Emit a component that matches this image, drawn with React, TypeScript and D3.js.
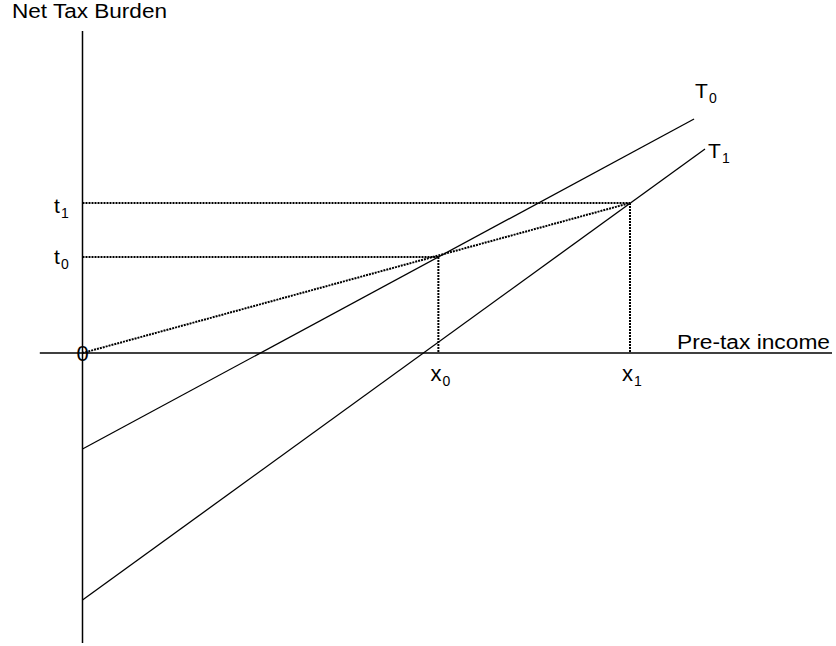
import React from "react";
import * as d3 from "d3";

// Income positions (x) and tax levels (t)
const incomeLabels = ["x0", "x1"];
const incomeValues = [6.5, 10];
const taxLabels = ["t0", "t1"];
const taxValues = [1.92, 3];

// Tax schedules: [income, net tax]
const scheduleNames = ["T0", "T1"];
const scheduleT0: [number, number][] = [[0, -1.92], [11.17, 4.68]];
const scheduleT1: [number, number][] = [[0, -4.94], [11.37, 4.08]];

// Axis extents
const xAxisExtent = [-0.78, 13.69];
const yAxisExtent = [-5.8, 6.44];

const W = 836;
const H = 646;
const FONT = "'Liberation Sans', Arial, Helvetica, sans-serif";

export default function App() {
  const x = d3.scaleLinear().domain([0, 10]).range([82.5, 630]);
  const y = d3.scaleLinear().domain([0, 3]).range([353, 203]);
  const line = d3
    .line<[number, number]>()
    .x((d) => x(d[0]))
    .y((d) => y(d[1]));

  const schedules = [scheduleT0, scheduleT1];
  const dotted = { stroke: "#000", strokeWidth: 2, strokeDasharray: "2,1", fill: "none" };

  const sub = (main: string, s: string, px: number, py: number, key: string, subDx = 14, size = 21) => (
    <g key={key}>
      <text x={px} y={py} fontSize={size} fontFamily={FONT} fill="#000">
        {main}
      </text>
      <text x={px + subDx} y={py + 5} fontSize={14} fontFamily={FONT} fill="#000">
        {s}
      </text>
    </g>
  );

  return (
    <svg
      width={W}
      height={H}
      style={{ position: "absolute", left: 0, top: 0, background: "#fff" }}
    >
      {/* axes */}
      <line
        x1={x(xAxisExtent[0])}
        x2={x(xAxisExtent[1])}
        y1={y(0)}
        y2={y(0)}
        stroke="#000"
        strokeWidth={1.5}
      />
      <line
        x1={x(0)}
        x2={x(0)}
        y1={y(yAxisExtent[1])}
        y2={y(yAxisExtent[0])}
        stroke="#000"
        strokeWidth={1.5}
      />

      {/* dotted guides */}
      {incomeValues.map((v, i) => (
        <g key={"g" + i}>
          <line x1={x(0)} x2={x(v)} y1={y(taxValues[i])} y2={y(taxValues[i])} style={dotted} />
          <line x1={x(v)} x2={x(v)} y1={y(taxValues[i])} y2={y(0)} style={dotted} />
        </g>
      ))}
      <path
        d={line([[0, 0], [incomeValues[1], taxValues[1]]]) || ""}
        style={dotted}
      />

      {/* schedules */}
      {schedules.map((s, i) => (
        <path key={"s" + i} d={line(s) || ""} stroke="#000" strokeWidth={1.3} fill="none" />
      ))}

      {/* labels */}
      <text
        x={12}
        y={18}
        fontSize={19.5}
        fontFamily={FONT}
        fill="#000"
        textLength={155}
        lengthAdjust="spacingAndGlyphs"
      >
        Net Tax Burden
      </text>
      <text
        x={677}
        y={349}
        fontSize={20}
        fontFamily={FONT}
        fill="#000"
        textLength={153}
        lengthAdjust="spacingAndGlyphs"
      >
        Pre-tax income
      </text>
      <text x={x(0)} y={y(0) + 8} fontSize={22} fontFamily={FONT} fill="#000" textAnchor="middle">
        0
      </text>

      {scheduleNames.map((n, i) => {
        const end = schedules[i][1];
        return sub(n[0], n.slice(1), x(end[0]) + (i === 0 ? 1 : 3), y(end[1]) - (i === 0 ? 21 : -9), "n" + i);
      })}
      {taxLabels.map((n, i) => sub(n[0], n.slice(1), 54, y(taxValues[i]) + (i === 0 ? 7 : 10), "t" + i, 7))}
      {incomeLabels.map((n, i) => sub(n[0], n.slice(1), x(incomeValues[i]) - 8, 381, "x" + i, 12, 22))}
    </svg>
  );
}
